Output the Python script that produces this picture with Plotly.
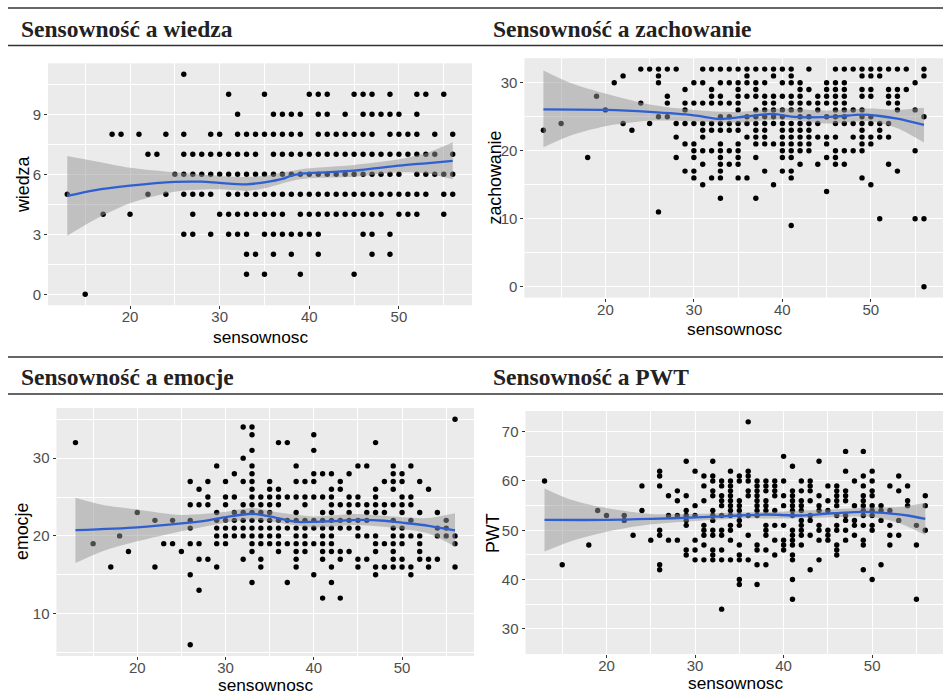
import plotly.graph_objects as go

# ---------------- data ----------------
panel_titles = ["Sensowność a wiedza", "Sensowność a zachowanie", "Sensowność a emocje", "Sensowność a PWT"]
x_label = "sensownosc"
y_labels = ["wiedza", "zachowanie", "emocje", "PWT"]

# wiedza: level -> sensownosc values
wiedza_by_level = {
    11: [26],
    10: [31, 35, 40, 41, 42, 45, 46, 47, 49, 52, 53, 55],
    9: [32, 36, 37, 38, 39, 41, 42, 44, 46, 47, 48, 49, 50, 52],
    8: [18, 19, 21, 24, 26, 29, 30, 32, 33, 34, 35, 36, 37, 38, 39, 41, 42, 43, 44, 45, 46, 47, 49, 50, 51, 52, 54, 56],
    7: [22, 23, 26, 27, 28, 29, 30, 31, 32, 33, 34, 36, 37, 38, 39, 40, 41, 42, 43, 44, 45, 46, 47, 48, 49, 50, 51, 52, 53, 54, 56],
    6: [25, 26, 27, 28, 29, 30, 31, 32, 33, 34, 35, 36, 37, 38, 39, 40, 41, 42, 43, 44, 45, 46, 47, 48, 49, 50, 52, 53, 54, 55, 56],
    5: [13, 22, 24, 26, 27, 28, 29, 31, 32, 33, 34, 35, 36, 37, 38, 39, 40, 41, 42, 43, 44, 45, 46, 47, 48, 49, 50, 51, 52, 53, 55, 56],
    4: [17, 20, 27, 30, 31, 32, 33, 34, 35, 36, 37, 39, 40, 41, 42, 43, 44, 45, 46, 47, 48, 50, 51, 52, 55],
    3: [26, 27, 29, 31, 32, 33, 35, 36, 37, 38, 39, 40, 41, 46, 47, 49],
    2: [33, 34, 36, 38, 41, 47, 49],
    1: [33, 35, 39, 45],
    0: [15],
}

# zachowanie: sensownosc -> values
zachowanie_by_sens = {
    13: [23], 15: [24], 18: [19], 19: [28], 20: [26], 21: [30], 22: [31, 24], 23: [23],
    24: [32, 27], 25: [32, 24], 26: [32, 31, 30, 25, 11], 27: [32, 28, 27, 25],
    28: [32, 24, 22, 19], 29: [29, 27, 26, 24, 21, 17], 30: [30, 27, 24, 21, 20, 19, 17, 16],
    31: [32, 30, 27, 24, 23, 22, 20, 18, 15], 32: [32, 29, 28, 27, 24, 23, 20, 16],
    33: [32, 30, 28, 27, 25, 24, 23, 21, 20, 19, 18, 17, 16, 13], 34: [32, 30, 27, 25, 24, 23, 20, 18],
    35: [32, 30, 29, 28, 27, 26, 24, 23, 21, 20, 19, 18, 16], 36: [32, 31, 30, 28, 25, 24, 22, 16],
    37: [32, 30, 29, 28, 26, 25, 24, 23, 22, 21, 19, 13], 38: [32, 30, 28, 27, 26, 25, 24, 23, 22, 21, 17],
    39: [32, 31, 28, 27, 26, 25, 24, 21, 15], 40: [32, 30, 28, 26, 25, 24, 23, 22, 21, 20, 19, 17],
    41: [32, 31, 30, 28, 27, 26, 24, 23, 22, 21, 20, 19, 17, 16, 9],
    42: [30, 29, 28, 27, 26, 25, 24, 23, 22, 21, 20, 18], 43: [32, 29, 27, 25, 24, 23, 22, 21, 20],
    44: [28, 27, 26, 24, 22, 18], 45: [30, 29, 28, 27, 25, 22, 21, 19, 14],
    46: [32, 30, 29, 28, 27, 26, 25, 24, 22, 20, 19, 18], 47: [32, 30, 29, 28, 27, 26, 25, 24, 20, 18],
    48: [32, 26, 24, 22, 20], 49: [32, 31, 29, 28, 26, 25, 24, 23, 22, 21, 20, 16],
    50: [32, 31, 29, 28, 25, 24, 22, 21, 15], 51: [32, 31, 24, 23, 22, 10],
    52: [32, 29, 28, 27, 24, 22, 18], 53: [32, 29, 28, 27, 26, 17], 54: [32, 29],
    55: [30, 26, 20, 10], 56: [32, 31, 25, 10, 0],
}

emocje_by_sens = {
    13: [32], 15: [19], 17: [16], 18: [20], 19: [18], 20: [23], 22: [22, 16], 23: [19],
    24: [22, 19], 25: [18], 26: [27, 24, 22, 21, 19, 15, 6], 27: [26, 24, 19, 17, 13],
    28: [27, 25, 24, 17], 29: [29, 23, 22, 21, 20, 19, 16], 30: [27, 25, 24, 22, 21, 20, 19],
    31: [28, 25, 23, 22, 21, 20], 32: [34, 30, 27, 24, 23, 22, 21, 20, 17],
    33: [34, 33, 31, 29, 28, 27, 26, 25, 24, 23, 22, 21, 20, 19, 18, 14],
    34: [25, 24, 23, 22, 21, 20, 19, 17, 16], 35: [27, 26, 25, 24, 23, 22, 21, 20, 19],
    36: [32, 26, 25, 24, 22, 21, 20, 19, 18], 37: [32, 25, 22, 21, 19, 14],
    38: [29, 27, 25, 23, 22, 21, 20, 19, 18, 17, 16], 39: [27, 25, 24, 22, 21, 20, 19, 18],
    40: [33, 31, 28, 27, 25, 22, 21, 19, 15], 41: [28, 25, 23, 22, 21, 20, 19, 18, 17, 12],
    42: [28, 26, 25, 24, 23, 22, 21, 20, 19, 18, 16, 14], 43: [27, 26, 24, 22, 21, 18, 17, 12],
    44: [28, 25, 24, 23, 22, 21, 18], 45: [29, 25, 24, 22, 21, 20, 17, 16],
    46: [29, 24, 23, 22, 20, 17], 47: [32, 26, 25, 24, 23, 20, 19, 18, 16, 15],
    48: [27, 24, 23, 19, 16], 49: [29, 28, 27, 26, 24, 22, 21, 20, 19, 18, 17, 16],
    50: [28, 27, 25, 24, 23, 21, 20, 19, 17, 16], 51: [29, 25, 24, 22, 20, 16, 15],
    52: [27, 23, 20, 19, 18, 17], 53: [26, 17, 16], 54: [23, 21, 20, 17], 55: [22, 21, 20],
    56: [35, 20, 19, 16],
}

pwt_by_sens = {
    13: [60], 15: [43], 18: [47], 19: [54], 20: [53], 22: [53, 52], 23: [49], 24: [59, 54], 25: [48],
    26: [62, 61, 59, 50, 49, 43, 42], 27: [57, 53, 48], 28: [58, 56, 53, 48],
    29: [64, 57, 54, 53, 52, 51, 46, 45], 30: [62, 55, 53, 48, 46, 44],
    31: [61, 59, 56, 51, 50, 49, 47, 44], 32: [64, 61, 60, 58, 57, 54, 53, 52, 50, 49, 46, 45, 44],
    33: [60, 59, 57, 56, 55, 53, 50, 49, 46, 44, 34], 34: [62, 60, 59, 58, 57, 56, 55, 54, 53, 51, 50, 48, 44],
    35: [61, 60, 56, 55, 54, 53, 52, 51, 47, 45, 44, 40, 39], 36: [72, 62, 61, 60, 58, 57, 53, 49, 44],
    37: [60, 59, 58, 57, 56, 55, 54, 53, 47, 46, 43, 39], 38: [60, 59, 58, 56, 55, 54, 51, 50, 49, 46, 43],
    39: [60, 59, 58, 57, 54, 51, 48, 45], 40: [65, 60, 57, 55, 51, 48, 47, 46],
    41: [63, 58, 57, 56, 55, 54, 53, 50, 49, 48, 47, 45, 44, 40, 36],
    42: [60, 58, 56, 55, 54, 52, 51, 50, 49, 47], 43: [60, 59, 58, 56, 53, 52, 49, 42],
    44: [64, 57, 55, 54, 51, 50, 48, 44], 45: [59, 56, 54, 50, 49, 48],
    46: [59, 58, 57, 56, 55, 53, 51, 50, 47, 46, 45], 47: [66, 62, 58, 57, 56, 53, 52, 50, 48],
    48: [60, 55, 52, 51, 49], 49: [66, 61, 59, 57, 56, 55, 54, 53, 51, 48, 47, 42],
    50: [62, 60, 58, 57, 55, 54, 53, 51, 50, 40], 51: [55, 54, 52, 43], 52: [59, 54, 51, 49, 47],
    53: [61, 58, 52, 49], 54: [59, 56, 55], 55: [51, 47, 36], 56: [57, 55, 50],
}

# loess fits
wiedza_fit_x = [13, 16, 20, 25, 28, 30, 33, 35, 37, 38, 39, 41, 45, 50, 53, 56]
wiedza_fit = [4.92, 5.2, 5.43, 5.62, 5.63, 5.57, 5.5, 5.6, 5.77, 5.93, 6.02, 6.08, 6.18, 6.43, 6.55, 6.67]
wiedza_hi_x = [13, 16, 20, 25, 30, 33, 35, 38, 40, 45, 50, 53, 56]
wiedza_hi = [6.92, 6.67, 6.33, 6.1, 5.92, 5.87, 5.93, 6.17, 6.3, 6.47, 6.75, 7.05, 7.6]
wiedza_lo = [2.93, 3.72, 4.55, 5.13, 5.25, 5.17, 5.3, 5.67, 5.8, 5.88, 6.1, 6.05, 5.75]

zach_fit_x = [13, 20, 25, 30, 33, 35, 37, 39, 41, 43, 46, 49, 51, 53, 56]
zach_fit = [26.08, 26.0, 25.7, 25.2, 24.65, 24.9, 25.2, 25.4, 25.0, 24.9, 25.0, 25.3, 25.1, 24.7, 23.8]
zach_band_x = [13, 16, 20, 25, 30, 35, 40, 45, 50, 53, 56]
zach_hi = [31.8, 30.0, 28.4, 26.8, 26.0, 25.7, 26.2, 25.9, 26.2, 26.0, 26.3]
zach_lo = [20.5, 22.2, 23.6, 24.4, 24.3, 24.1, 24.6, 24.0, 24.3, 23.3, 21.2]

emo_fit_x = [13, 20, 25, 28, 30, 33, 35, 37, 38, 40, 43, 45, 48, 50, 53, 56]
emo_fit = [20.73, 21.1, 21.6, 22.0, 22.4, 22.85, 22.5, 22.0, 21.8, 21.8, 21.95, 22.05, 21.95, 21.7, 21.3, 20.7]
emo_band_x = [13, 16, 20, 25, 30, 33, 36, 40, 45, 50, 53, 56]
emo_hi = [24.9, 24.0, 23.4, 22.7, 23.1, 23.6, 23.0, 22.5, 22.8, 22.4, 22.3, 22.9]
emo_lo = [16.5, 18.0, 19.3, 20.6, 21.7, 22.1, 21.7, 21.1, 21.4, 20.9, 20.3, 18.6]

pwt_fit_x = [13, 20, 25, 30, 35, 38, 42, 45, 48, 50, 52, 54, 56]
pwt_fit = [52.1, 52.1, 52.3, 52.6, 53.0, 53.2, 53.0, 53.4, 53.7, 53.7, 53.4, 53.0, 52.3]
pwt_band_x = [13, 16, 20, 25, 30, 35, 40, 45, 50, 53, 56]
pwt_hi = [58.5, 56.2, 54.5, 53.3, 53.3, 53.6, 53.8, 54.2, 54.6, 54.7, 55.6]
pwt_lo = [45.7, 47.8, 49.7, 51.2, 51.9, 52.4, 52.4, 52.6, 52.7, 51.5, 49.05]

# ---------------- build ----------------
W, H = 943, 697
fig = go.Figure()

def pts_from_cols(d):
    xs, ys = [], []
    for k, vals in d.items():
        for v in vals:
            xs.append(k); ys.append(v)
    return xs, ys

w_x, w_y = [], []
for lvl, xs in wiedza_by_level.items():
    for v in xs:
        w_x.append(v); w_y.append(lvl)

panels = [
    (w_x, w_y, wiedza_fit_x, wiedza_fit, wiedza_hi_x, wiedza_hi, wiedza_lo),
    (*pts_from_cols(zachowanie_by_sens), zach_fit_x, zach_fit, zach_band_x, zach_hi, zach_lo),
    (*pts_from_cols(emocje_by_sens), emo_fit_x, emo_fit, emo_band_x, emo_hi, emo_lo),
    (*pts_from_cols(pwt_by_sens), pwt_fit_x, pwt_fit, pwt_band_x, pwt_hi, pwt_lo),
]

for i, (px, py, fx, fy, bx, bhi, blo) in enumerate(panels):
    xa = "x" if i == 0 else f"x{i+1}"
    ya = "y" if i == 0 else f"y{i+1}"
    fig.add_trace(go.Scatter(x=px, y=py, mode="markers", xaxis=xa, yaxis=ya,
                             marker=dict(color="black", size=5.4), showlegend=False, hoverinfo="x+y"))
    fig.add_trace(go.Scatter(x=bx, y=blo, mode="lines", xaxis=xa, yaxis=ya,
                             line=dict(width=0, shape="spline", smoothing=0.8), showlegend=False, hoverinfo="skip"))
    fig.add_trace(go.Scatter(x=bx, y=bhi, mode="lines", xaxis=xa, yaxis=ya, fill="tonexty",
                             fillcolor="rgba(150,150,150,0.5)",
                             line=dict(width=0, shape="spline", smoothing=0.8), showlegend=False, hoverinfo="skip"))
    fig.add_trace(go.Scatter(x=fx, y=fy, mode="lines", xaxis=xa, yaxis=ya,
                             line=dict(color="#2f5fd0", width=2.3, shape="spline", smoothing=0.8),
                             showlegend=False))

# pixel boxes: (left, right, top, bottom)
boxes = [(48, 472, 63.3, 305.3), (524.4, 943, 58.2, 297.6), (56.5, 474, 408, 656), (525.5, 943, 411, 654)]
y_ranges = [[-0.55, 11.55], [-1.6, 33.6], [4.55, 36.45], [24.9, 74.2]]
y_dticks = [3, 10, 10, 10]
x_ranges = [[10.85, 58.15], [10.85, 58.15], [10.85, 58.15], [10.85, 58.0]]
# axis title centres (px)
x_title_pos = [(260, 337), (734, 329), (265, 684.5), (735, 683)]
y_title_pos = [(23, 185), (494.5, 178), (22, 532), (493, 533)]

tickfont = dict(family="Liberation Sans, Arial", size=15, color="#4d4d4d")
xtitlefont = dict(family="Liberation Sans, Arial", size=17.3, color="black")
ytitlefont = dict(family="Liberation Sans, Arial", size=17.8, color="black")

layout_axes = {}
for i, (l, r, t, b) in enumerate(boxes):
    xk = "xaxis" if i == 0 else f"xaxis{i+1}"
    yk = "yaxis" if i == 0 else f"yaxis{i+1}"
    xa = "x" if i == 0 else f"x{i+1}"
    ya = "y" if i == 0 else f"y{i+1}"
    layout_axes[xk] = dict(
        domain=[l / W, r / W], anchor=ya, range=x_ranges[i], tick0=0, dtick=10,
        showgrid=True, gridcolor="white", gridwidth=1.4,
        minor=dict(dtick=5, tick0=0, showgrid=True, gridcolor="white", gridwidth=0.6),
        ticks="outside", ticklen=3, tickwidth=1, tickcolor="#333333", tickfont=tickfont,
        ticklabelstandoff=-5,
        zeroline=False, showline=False,
    )
    layout_axes[yk] = dict(
        domain=[1 - b / H, 1 - t / H], anchor=xa, range=y_ranges[i], tick0=0, dtick=y_dticks[i],
        showgrid=True, gridcolor="white", gridwidth=1.4,
        minor=dict(dtick=y_dticks[i] / 2, tick0=0, showgrid=True, gridcolor="white", gridwidth=0.6),
        ticks="outside", ticklen=3, tickwidth=1, tickcolor="#333333", tickfont=tickfont,
        zeroline=False, showline=False,
    )

shapes = []
for yy in [8, 45.5, 357, 394]:
    shapes.append(dict(type="line", xref="paper", yref="paper", x0=8 / W, x1=1, y0=1 - yy / H, y1=1 - yy / H,
                       line=dict(color="#333333", width=1.4)))

title_pos = [(19, 29), (491, 29), (19, 377), (491, 377)]
annotations = []
for txt, (tx, ty) in zip(panel_titles, title_pos):
    annotations.append(dict(text=txt, xref="paper", yref="paper", x=tx / W, y=1 - ty / H,
                            xanchor="left", yanchor="middle", showarrow=False,
                            font=dict(family="Liberation Serif, Times New Roman", size=23.5, color="#222222",
                                      weight="bold")))
for (tx, ty) in x_title_pos:
    annotations.append(dict(text=x_label, xref="paper", yref="paper", x=tx / W, y=1 - ty / H,
                            xanchor="center", yanchor="middle", showarrow=False, font=xtitlefont))
for lab, (tx, ty) in zip(y_labels, y_title_pos):
    annotations.append(dict(text=lab, xref="paper", yref="paper", x=tx / W, y=1 - ty / H, textangle=-90,
                            xanchor="center", yanchor="middle", showarrow=False, font=ytitlefont))

fig.update_layout(
    width=W, height=H, margin=dict(l=0, r=0, t=0, b=0),
    paper_bgcolor="white", plot_bgcolor="#EBEBEB",
    shapes=shapes, annotations=annotations, showlegend=False,
    **layout_axes,
)

fig.write_html("out.html")
